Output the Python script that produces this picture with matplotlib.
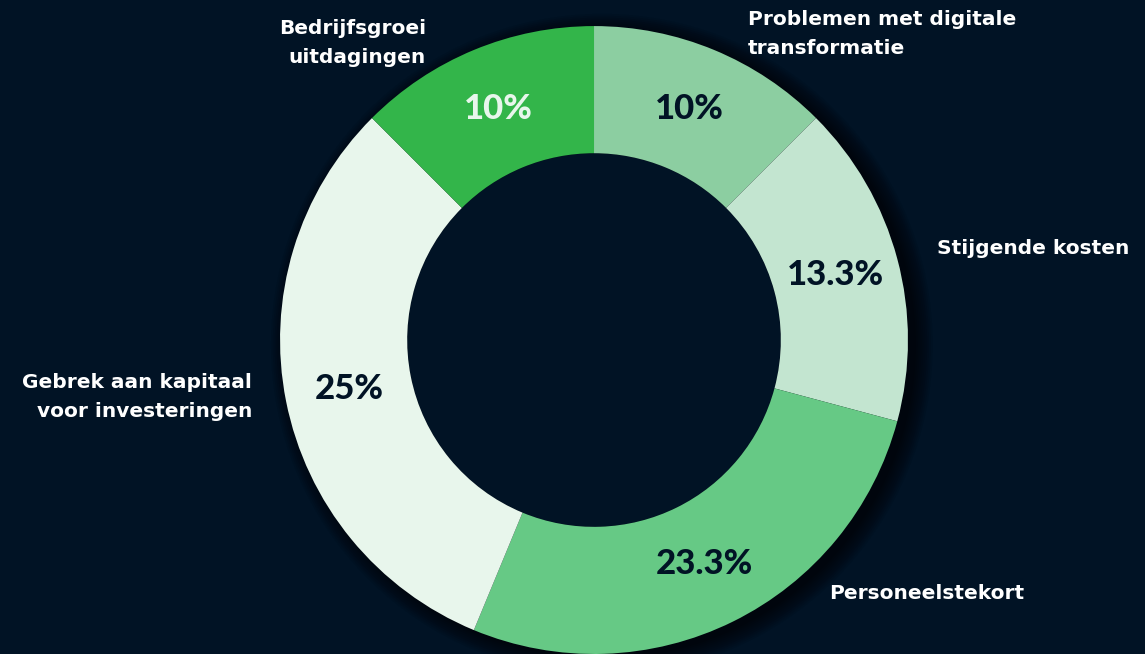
import numpy as np
import matplotlib.pyplot as plt
from matplotlib.patches import Circle

# data
categories = ['Problemen met digitale\ntransformatie', 'Stijgende kosten', 'Personeelstekort',
              'Gebrek aan kapitaal\nvoor investeringen', 'Bedrijfsgroei\nuitdagingen']
values = [6, 8, 13, 15, 6]          # slice sizes as drawn
pct_labels = ['10%', '13.3%', '23.3%', '25%', '10%']

colors = ['#8ccea1', '#c3e5d0', '#66c985', '#e8f6ec', '#33b54a']
pct_colors = ['#011325', '#011325', '#011325', '#011325', '#e8f6ec']
bg = '#011325'

# label anchor points (data units, pie radius = 1) and alignment
label_pos = [(0.490, 0.975, 'left'), (1.092, 0.293, 'left'), (0.748, -0.806, 'left'),
             (-1.089, -0.182, 'right'), (-0.535, 0.946, 'right')]

fig = plt.figure(figsize=(11.45, 6.54), dpi=100, facecolor=bg)
ax = fig.add_axes([0, 0, 1, 1])
ax.set_facecolor(bg)

# soft shadow behind the ring
for i in range(10):
    ax.add_patch(Circle((0.025, -0.015), 1.0 + 0.006 * i, color='black', alpha=0.08, lw=0, zorder=0))
ax.add_patch(Circle((0, 0), 0.595, color=bg, lw=0, zorder=1))

wedges, _ = ax.pie(values, colors=colors, startangle=90, counterclock=False,
                   radius=1.0, wedgeprops=dict(width=0.405, edgecolor='none'))
for w in wedges:
    w.set_zorder(2)

# percentage labels inside the ring
for w, t, c in zip(wedges, pct_labels, pct_colors):
    a = np.deg2rad((w.theta1 + w.theta2) / 2)
    ax.text(0.795 * np.cos(a), 0.795 * np.sin(a), t, ha='center', va='center',
            fontsize=25, fontweight='black', family=['Lato', 'DejaVu Sans'], color=c, zorder=3)

# category labels
for (x, y, ha), cat in zip(label_pos, categories):
    ax.text(x, y, cat, ha=ha, va='center', fontsize=14.5, fontweight='bold',
            family=['DejaVu Sans'], color='white', linespacing=1.65, zorder=3)

ax.set_xlim(-1.892, 1.755)
ax.set_ylim(-1.0, 1.083)
ax.set_aspect('equal')
ax.axis('off')

fig.savefig('out.png', dpi=100, facecolor=bg)
